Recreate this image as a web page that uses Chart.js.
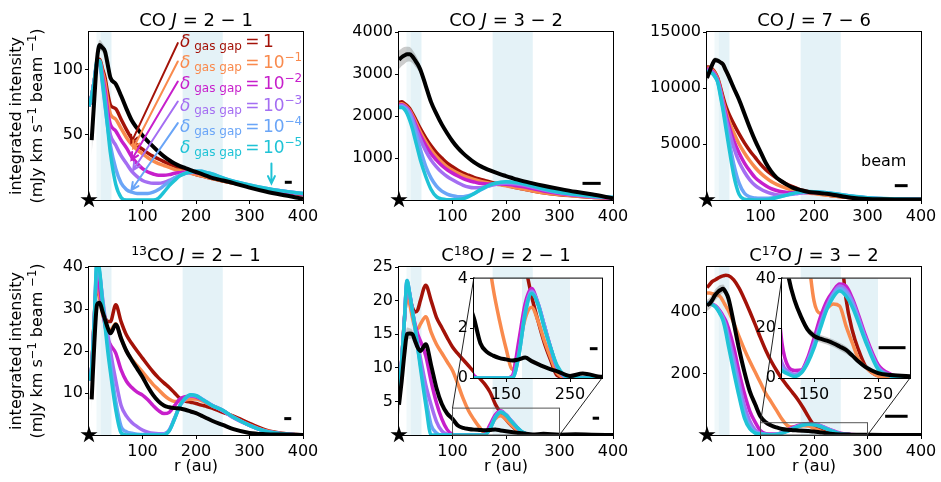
<!DOCTYPE html>
<html>
<head>
<meta charset="utf-8">
<title>CO isotopologue radial profiles</title>
<script src="https://cdn.jsdelivr.net/npm/chart.js@4.4.1/dist/chart.umd.min.js"></script>
<style>
  html, body { margin: 0; padding: 0; background: #fff; }
  #fig { position: relative; width: 941px; height: 482px; overflow: hidden;
         font-family: 'DejaVu Sans', sans-serif; color: #000; }
  #fig canvas { position: absolute; }
  .txt { position: absolute; white-space: nowrap; }
  .title { font-size: 18px; line-height: 22px; text-align: center; }
  .title sup { font-size: 12.5px; line-height: 0; vertical-align: 6px; }
  .axlab { font-size: 16px; line-height: 20px; text-align: center; }
  .ylab { font-size: 16px; line-height: 21px; text-align: center; width: 220px; height: 42px; transform: rotate(-90deg); }
  .ylab sup { font-size: 11.5px; line-height: 0; vertical-align: 6px; }
  .key { font-size: 17px; line-height: 20px; }
  .key .sub { font-size: 12px; vertical-align: -3px; }
  .key sup { font-size: 12px; line-height: 0; vertical-align: 7px; }
</style>
</head>
<body>
<div id="fig"></div>
<script>
// radial grid shared by every profile (au)
const radius = [0, 5, 10, 15, 20, 25, 30, 35, 40,
                50, 60, 70, 80, 90, 100,
                110, 120, 130, 140, 150, 160, 170, 180, 190, 200,
                210, 220, 230, 250, 270, 300, 330, 360, 400];

// gas depletion inside the gaps for the six models: 10^exp
const gapDepthExp = [0, -1, -2, -3, -4, -5];

// gap locations (au)
const innerEdge = [14, 22];
const gapBands = [[22, 42], [175, 250]];

const xTicks = [100, 200, 300, 400];
const insetXTicks = [150, 250];
const insetRange = [100, 300];

// beam FWHM for each line (au)
const beamSize = [13, 34, 24, 13, 12, 42];

// ---- CO J=2-1 (mJy km/s/beam) ----
const co21Ticks = [50, 100];
const co21Red     = [72, 80, 92, 105, 108, 101, 94, 82, 73,
                     70, 62, 54, 47, 42, 39,
                     36, 33.5, 31.5, 29.5, 27.5, 26, 24, 22.5, 21, 19.5,
                     18.5, 17.5, 16.5, 14.5, 13, 10.5, 8, 6.5, 4];
const co21Orange  = [72, 80, 92, 105, 107, 99, 90, 76, 66,
                     62, 55, 48, 42.5, 38.5, 35.5,
                     32.5, 30, 28, 26.5, 25, 23.5, 22.5, 21.5, 20.5, 19.5,
                     18.5, 17.5, 16.5, 14.5, 13, 10.5, 8, 6.5, 4.5];
const co21Magenta = [72, 80, 92, 105, 106, 96, 84, 68, 58,
                     53, 46, 40, 33, 28, 24,
                     21.5, 20, 19, 19, 19.5, 20.5, 21, 21.5, 21.5, 21,
                     20.5, 19.5, 18.5, 16, 14, 11, 8.5, 6.5, 4.5];
const co21Purple  = [72, 80, 92, 105, 105, 93, 80, 62, 50,
                     42, 34, 28, 22, 18, 15,
                     13.5, 12.8, 12.8, 13.5, 15, 17, 19, 20.5, 21, 21.5,
                     21.5, 20.5, 19.5, 16.5, 14, 11, 8.5, 7, 5];
const co21Blue    = [72, 80, 92, 105, 104, 89, 72, 56, 42,
                     24, 13, 8, 6, 5, 5,
                     5, 6, 8, 11, 14, 17, 19, 20.5, 21.5, 22,
                     22, 21, 20, 17, 14.5, 11.5, 9, 7, 5];
const co21Cyan    = [72, 80, 92, 107, 107, 92, 74, 55, 36,
                     12, 2, 0, 0, 0, 0,
                     0, 0, 1.5, 6, 11, 15, 18.5, 20.5, 21.5, 22,
                     22, 21, 20, 17, 14.5, 11.5, 9, 7, 5];
const co21Obs     = [null, 46, 78, 108, 119, 117, 114, 104, 94,
                     89, 80, 70, 61, 55, 49.5,
                     45, 41, 37, 33.5, 30.5, 28, 26, 24.5, 23, 21.5,
                     20, 18.5, 17, 15, 13, 9.5, 6.5, 4, 1];
const co21Err     = [null, 12, 8, 5, 4, 3.5, 3, 2.5, 2,
                     1.5, 1.2, 1, 1, 1, 1,
                     0.8, 0.8, 0.8, 0.7, 0.7, 0.6, 0.6, 0.6, 0.6, 0.5,
                     0.5, 0.5, 0.5, 0.5, 0.5, 0.5, 0.5, 0.5, 0.5];

// ---- CO J=3-2 ----
const co32Ticks = [1000, 2000, 3000, 4000];
const co32Red     = [2320, 2340, 2300, 2250, 2180, 2070, 1950, 1820, 1700,
                     1480, 1290, 1130, 1000, 880, 790,
                     710, 640, 590, 540, 500, 465, 430, 400, 375, 350,
                     320, 290, 265, 215, 170, 125, 95, 65, 40];
const co32Orange  = [2280, 2290, 2260, 2210, 2140, 2020, 1890, 1750, 1620,
                     1390, 1190, 1030, 900, 790, 710,
                     640, 580, 530, 490, 455, 425, 400, 380, 360, 340,
                     315, 290, 265, 215, 175, 130, 97, 67, 42];
const co32Magenta = [2260, 2270, 2240, 2190, 2110, 1980, 1830, 1680, 1540,
                     1300, 1100, 950, 820, 720, 640,
                     570, 510, 465, 430, 400, 385, 380, 380, 380, 375,
                     360, 340, 320, 270, 215, 155, 112, 77, 47];
const co32Purple  = [2240, 2250, 2220, 2170, 2080, 1940, 1770, 1600, 1440,
                     1170, 950, 790, 660, 560, 480,
                     410, 350, 310, 290, 290, 310, 340, 370, 390, 400,
                     395, 380, 360, 305, 245, 172, 122, 82, 52];
const co32Blue    = [2220, 2230, 2200, 2140, 2040, 1870, 1660, 1430, 1200,
                     800, 520, 330, 210, 140, 100,
                     80, 80, 100, 150, 220, 290, 350, 395, 420, 430,
                     425, 410, 390, 330, 262, 182, 132, 92, 60];
const co32Cyan    = [2200, 2200, 2160, 2060, 1900, 1700, 1450, 1200, 950,
                     560, 250, 80, 25, 8, 5,
                     10, 30, 80, 150, 230, 300, 360, 400, 425, 435,
                     430, 415, 395, 335, 265, 185, 135, 95, 65];
const co32Obs     = [3340, 3400, 3440, 3470, 3470, 3420, 3330, 3230, 3100,
                     2720, 2330, 2050, 1800, 1590, 1400,
                     1240, 1110, 1000, 900, 820, 760, 705, 655, 610, 570,
                     530, 490, 455, 395, 340, 265, 195, 135, 40];
const co32Err     = [220, 210, 200, 180, 170, 160, 150, 130, 110,
                     80, 60, 45, 35, 30, 25,
                     20, 20, 20, 20, 20, 20, 20, 20, 20, 20,
                     20, 20, 20, 20, 20, 20, 20, 20, 20];

// ---- CO J=7-6 ----
const co76Ticks = [5000, 10000, 15000];
const co76Red     = [11900, 11850, 11700, 11400, 10900, 10100, 9200, 8400, 7800,
                     6800, 5900, 5100, 4400, 3800, 3200,
                     2700, 2300, 1950, 1650, 1400, 1200, 1000, 850, 750, 650,
                     560, 480, 410, 300, 200, 120, 80, 60, 40];
const co76Orange  = [11800, 11750, 11600, 11300, 10800, 9900, 8900, 8000, 7200,
                     6000, 5000, 4200, 3500, 2900, 2400,
                     2000, 1650, 1400, 1200, 1030, 900, 790, 700, 630, 570,
                     510, 450, 400, 300, 210, 130, 85, 60, 40];
const co76Magenta = [11700, 11650, 11500, 11200, 10700, 9800, 8700, 7700, 6800,
                     5300, 4200, 3300, 2600, 2000, 1600,
                     1280, 1020, 850, 730, 670, 650, 650, 660, 670, 665,
                     640, 600, 550, 430, 310, 180, 110, 70, 50];
const co76Purple  = [11600, 11550, 11400, 11100, 10600, 9700, 8500, 7400, 6400,
                     4700, 3400, 2500, 1800, 1300, 980,
                     740, 580, 480, 450, 460, 510, 580, 640, 690, 700,
                     680, 640, 590, 460, 330, 190, 115, 75, 50];
const co76Blue    = [11500, 11450, 11300, 11000, 10550, 9500, 8200, 6900, 5600,
                     3200, 1500, 600, 280, 180, 150,
                     150, 180, 250, 350, 460, 560, 640, 700, 730, 730,
                     710, 670, 610, 480, 340, 200, 120, 80, 55];
const co76Cyan    = [11400, 11400, 11300, 11000, 10500, 9300, 8000, 6500, 5000,
                     2200, 500, 80, 20, 5, 5,
                     30, 100, 200, 330, 460, 580, 680, 730, 750, 740,
                     720, 680, 620, 490, 350, 210, 125, 85, 60];
const co76Obs     = [10900, 11500, 12100, 12500, 12450, 12300, 12100, 11600, 11100,
                     10000, 8950, 7700, 6450, 5300, 4300,
                     3300, 2550, 2000, 1650, 1350, 1100, 950, 820, 720, 660,
                     620, 570, 520, 350, 200, 90, 60, 50, 40];
const co76Err     = [300, 300, 300, 250, 200, 150, 120, 100, 80,
                     60, 50, 40, 40, 40, 40,
                     30, 30, 30, 30, 30, 30, 30, 30, 30, 30,
                     30, 30, 30, 30, 30, 30, 30, 30, 30];

// ---- 13CO J=2-1 ----
const c13Ticks = [10, 20, 30, 40];
const c13Red     = [13, 16, 28, 36, 33, 30, 28, 27, 27,
                    31, 27, 23.8, 21.8, 20, 18.3,
                    16.6, 15, 13.6, 12.4, 11.3, 10, 8.7, 8.1, 7.8, 7.5,
                    7.1, 6.8, 6.4, 5.4, 4.5, 2.8, 1.2, 0.4, 0];
const c13Orange  = [13, 16, 28, 37, 33, 29, 27, 25.5, 25,
                    26.5, 23, 20, 18, 16.5, 15,
                    13.5, 12, 10.8, 9.5, 8.5, 8, 8, 8.3, 8.6, 8.6,
                    8.2, 7.6, 7, 5.8, 4.3, 2.4, 1, 0.3, 0];
const c13Magenta = [13, 16, 28, 38, 35, 30, 26, 23, 21.5,
                    19.5, 15.5, 12.8, 11.3, 10.2, 9.5,
                    8.4, 7, 5.8, 5.1, 5.4, 7, 8.6, 9.1, 9.3, 9.1,
                    8.5, 7.8, 7.1, 5.8, 4.2, 2.3, 0.9, 0.3, 0];
const c13Purple  = [13, 16, 28, 40, 38, 33, 28, 24, 20,
                    13, 7, 4.5, 3, 2, 1.2,
                    0.7, 0.4, 0.3, 0.3, 1.2, 4, 7, 8.6, 9.4, 9.3,
                    8.6, 7.8, 7, 5.8, 4.1, 2.3, 0.9, 0.3, 0];
const c13Blue    = [13, 16, 28, 41, 38.5, 32.5, 27, 21.5, 17,
                    8, 2, 0.8, 0.4, 0.2, 0.1,
                    0.1, 0.1, 0.1, 0.2, 1, 4, 7, 8.7, 9.5, 9.4,
                    8.7, 7.9, 7.1, 5.9, 4.2, 2.3, 0.9, 0.3, 0];
const c13Cyan    = [13, 16, 28, 42, 39, 32, 26, 20, 15,
                    6, 0.5, 0, 0, 0, 0,
                    0, 0, 0, 0, 1, 3.8, 7, 8.8, 9.6, 9.4,
                    8.6, 7.8, 7, 5.9, 4.2, 2.3, 0.9, 0.3, 0];
const c13Obs     = [null, 8.5, 22, 31, 31.5, 29.5, 27.5, 25.5, 24.2,
                    26.3, 23, 20, 17.8, 15.8, 13.8,
                    11.5, 9.5, 8, 7, 6.6, 6.4, 6.3, 6, 5.6, 5.2,
                    4.6, 4, 3.4, 2.4, 1.4, 0.5, 0.2, 0.1, 0];
const c13Err     = [null, 3, 1.5, 1, 0.8, 0.6, 0.5, 0.4, 0.4,
                    0.3, 0.3, 0.2, 0.2, 0.2, 0.2,
                    0.2, 0.2, 0.2, 0.2, 0.2, 0.2, 0.2, 0.2, 0.2, 0.2,
                    0.2, 0.2, 0.2, 0.2, 0.2, 0.2, 0.2, 0.2, 0.2];

// ---- C18O J=2-1 ----
const c18Ticks = [5, 10, 15, 20, 25];
const c18InsetTicks = [0, 2, 4];
const c18Red     = [6, 11, 17, 21, 20.5, 19, 18.3, 18.6, 20,
                    22.3, 20, 17.5, 16, 14.5, 13.1,
                    12.1, 11.2, 10.3, 9.4, 8.5, 7.6, 6.4, 4.6, 3.3, 2.3,
                    1.4, 0.7, 0.1, 0, 0, 0, 0, 0, 0];
const c18Orange  = [6, 11, 17, 21, 19.5, 17.5, 16, 15.8, 16.5,
                    17.6, 15.3, 13.5, 12.2, 10.9, 9.6,
                    7.6, 5.4, 3.6, 2.3, 1.2, 0.35, 1.2, 2.4, 2.85, 2.3,
                    1.5, 0.8, 0.2, 0, 0, 0, 0, 0, 0];
const c18Magenta = [6, 11, 17, 22.5, 21, 18.5, 16.5, 15, 14,
                    11.8, 8, 4.8, 2.4, 0.8, 0.1,
                    0, 0, 0, 0, 0, 0.1, 1.5, 3, 3.6, 3,
                    2.1, 1.2, 0.4, 0, 0, 0, 0, 0, 0];
const c18Purple  = [6, 11, 17, 22.8, 21, 18.5, 16, 13.5, 11.5,
                    7.5, 4.5, 2, 0.6, 0.1, 0,
                    0, 0, 0, 0, 0, 0.05, 1, 2.7, 3.5, 3,
                    2.1, 1.2, 0.4, 0, 0, 0, 0, 0, 0];
const c18Blue    = [6, 11, 17, 23, 21, 18.5, 16, 13, 10.5,
                    5.5, 1.5, 0.3, 0, 0, 0,
                    0, 0, 0, 0, 0, 0, 0.9, 2.6, 3.45, 3,
                    2.1, 1.2, 0.45, 0, 0, 0, 0, 0, 0];
const c18Cyan    = [6, 11, 17, 23, 21, 18.5, 16, 13, 10,
                    4.5, 0, 0, 0, 0, 0,
                    0, 0, 0, 0, 0, 0, 0.9, 2.6, 3.4, 2.95,
                    2, 1.2, 0.5, 0, 0, 0, 0, 0, 0];
const c18Obs     = [4.5, 8, 12, 15, 15.1, 15, 14, 13, 12.5,
                    13.5, 10.4, 7, 4.6, 3.2, 2.4,
                    1.4, 1.05, 0.9, 0.8, 0.75, 0.7, 0.75, 0.82, 0.68, 0.56,
                    0.45, 0.35, 0.27, 0.08, 0.18, 0.05, 0.1, 0.05, 0];
const c18Err     = [1.5, 1.5, 1.3, 1, 0.8, 0.6, 0.5, 0.4, 0.3,
                    0.2, 0.2, 0.15, 0.1, 0.1, 0.1,
                    0.05, 0.05, 0.05, 0.05, 0.05, 0.05, 0.05, 0.05, 0.05, 0.05,
                    0.05, 0.05, 0.05, 0.05, 0.05, 0.05, 0.05, 0.05, 0.05];

// ---- C17O J=3-2 ----
const c17Ticks = [200, 400];
const c17InsetTicks = [0, 20, 40];
const c17Red     = [480, 490, 500, 505, 510, 515, 518, 520, 519,
                    505, 478, 442, 402, 360, 316,
                    275, 240, 210, 183, 160, 138, 115, 88, 58, 32,
                    19, 11, 5, 1, 0.5, 0.2, 0, 0, 0];
const c17Orange  = [462, 462, 460, 458, 456, 450, 436, 420, 405,
                    365, 320, 278, 240, 205, 170,
                    135, 108, 80, 52, 31, 26, 28, 29.8, 29, 21,
                    14, 7.4, 4.5, 0.8, 0.3, 0, 0, 0, 0];
const c17Magenta = [428, 428, 426, 422, 414, 402, 388, 372, 348,
                    286, 205, 135, 78, 42, 14,
                    4.5, 3, 3.2, 8, 16, 24.5, 31, 35, 37.8, 37,
                    32, 25, 17.5, 5.5, 1.5, 0.3, 0, 0, 0];
const c17Purple  = [428, 428, 425, 420, 411, 398, 382, 358, 322,
                    250, 170, 95, 46, 17, 6,
                    2.5, 1.5, 2.5, 7, 14, 22, 29, 34, 37, 35.5,
                    31, 24, 16.5, 4.5, 1.2, 0.2, 0, 0, 0];
const c17Blue    = [428, 428, 425, 419, 409, 395, 377, 348, 305,
                    228, 148, 72, 30, 10, 4,
                    2, 1, 2.2, 6.5, 13, 21, 28, 33.5, 36, 34.5,
                    30, 23, 16, 4, 1, 0, 0, 0, 0];
const c17Cyan    = [428, 428, 424, 418, 407, 392, 372, 336, 290,
                    205, 125, 55, 20, 6, 3,
                    1.5, 0.6, 2, 6, 12, 20, 27.5, 32.5, 35, 33,
                    28.5, 22, 15, 3.5, 0.8, 0, 0, 0, 0];
const c17Obs     = [422, 428, 440, 455, 465, 472, 476, 465, 445,
                    365, 280, 205, 142, 100, 60,
                    41, 31, 24.5, 19.5, 17, 15.8, 15, 14, 12.7, 11.3,
                    9, 6.5, 4.5, 2, 1.2, 0.7, 0.4, 0.2, 0];
const c17Err     = [18, 18, 18, 18, 18, 16, 14, 12, 10,
                    8, 6, 5, 4, 3, 2.5,
                    2, 1.5, 1.5, 1.5, 1.5, 1.5, 1.5, 1.5, 1.5, 1.5,
                    1.2, 1, 1, 0.8, 0.6, 0.5, 0.3, 0.2, 0.1];

// ---------------------------------------------------------------------------

const modelColors = ['#a31208', '#f98a4d', '#c71fcb', '#a46ef2', '#6aa5f7', '#1fc3d6'];

// key arrows in the CO 2-1 panel: [r tail, I tail, r tip, I tip]
const keyArrows = [[166, 120.5, 79, 44], [166, 106.4, 82.5, 39.7], [166, 91, 79.4, 30.8],
                   [166, 75.6, 82.5, 23], [166, 59, 79.4, 7.7], [341, 28, 341, 12.8]];

const panels = [
  { title: 'CO <i>J</i> = 2 − 1', col: 0, row: 0, yMax: 129, yTicks: co21Ticks,
    models: [co21Red, co21Orange, co21Magenta, co21Purple, co21Blue, co21Cyan],
    obs: co21Obs, err: co21Err, beamAt: [379, 13.6], arrows: keyArrows },
  { title: 'CO <i>J</i> = 3 − 2', col: 1, row: 0, yMax: 4000, yTicks: co32Ticks,
    models: [co32Red, co32Orange, co32Magenta, co32Purple, co32Blue, co32Cyan],
    obs: co32Obs, err: co32Err, beamAt: [377, 396] },
  { title: 'CO <i>J</i> = 7 − 6', col: 2, row: 0, yMax: 15000, yTicks: co76Ticks,
    models: [co76Red, co76Orange, co76Magenta, co76Purple, co76Blue, co76Cyan],
    obs: co76Obs, err: co76Err, beamAt: [375, 1280] },
  { title: '<sup>13</sup>CO <i>J</i> = 2 − 1', col: 0, row: 1, yMax: 40, yTicks: c13Ticks,
    models: [c13Red, c13Orange, c13Magenta, c13Purple, c13Blue, c13Cyan],
    obs: c13Obs, err: c13Err, beamAt: [378, 3.9] },
  { title: 'C<sup>18</sup>O <i>J</i> = 2 − 1', col: 1, row: 1, yMax: 25, yTicks: c18Ticks,
    models: [c18Red, c18Orange, c18Magenta, c18Purple, c18Blue, c18Cyan],
    obs: c18Obs, err: c18Err, beamAt: [374, 2.5],
    inset: { yMax: 4, yTicks: c18InsetTicks, beamAt: [293, 1.18] } },
  { title: 'C<sup>17</sup>O <i>J</i> = 3 − 2', col: 2, row: 1, yMax: 547, yTicks: c17Ticks,
    models: [c17Red, c17Orange, c17Magenta, c17Purple, c17Blue, c17Cyan],
    obs: c17Obs, err: c17Err, beamAt: [375, 61],
    inset: { yMax: 40, yTicks: c17InsetTicks, beamAt: [293, 12.2] } },
];

// page layout (px)
const AXIS_W = 62, AXIS_H = 30, PAD_TOP = 12, PAD_RIGHT = 22;
const PLOT_W = 214, PLOT_H = 168;
const colLeft = [89, 399, 707], rowTop = [32, 267];
const insetFrac = { x0: 0.35, x1: 0.95, y0: 0.06, y1: 0.66 };
const IN_AXIS_W = 30, IN_AXIS_H = 26, IN_PAD_TOP = 10, IN_PAD_RIGHT = 22;

Chart.defaults.font.family = "'DejaVu Sans', sans-serif";
Chart.defaults.color = '#000';

const fig = document.getElementById('fig');

function makeStar(r) {
  const size = Math.ceil(2 * r) + 2;
  const c = document.createElement('canvas');
  c.width = size; c.height = size;
  const g = c.getContext('2d');
  g.fillStyle = '#000';
  g.beginPath();
  for (let k = 0; k < 10; k++) {
    const rr = k % 2 ? r * 0.382 : r;
    const ang = -Math.PI / 2 + k * Math.PI / 5;
    g.lineTo(size / 2 + rr * Math.cos(ang), size / 2 + rr * Math.sin(ang));
  }
  g.closePath();
  g.fill();
  return c;
}
const starImg = makeStar(9);

function makeCanvas(left, top, w, h) {
  const c = document.createElement('canvas');
  c.width = w; c.height = h;
  c.style.left = left + 'px'; c.style.top = top + 'px';
  c.style.width = w + 'px'; c.style.height = h + 'px';
  fig.appendChild(c);
  return c;
}

function addText(html, left, top, cls, style) {
  const d = document.createElement('div');
  d.className = 'txt ' + cls;
  d.innerHTML = html;
  d.style.left = left + 'px';
  d.style.top = top + 'px';
  if (style) d.style.cssText += style;
  fig.appendChild(d);
  return d;
}

function points(values) {
  return radius.map((r, i) => ({ x: r, y: values[i] }));
}

function profileSets(p, beam, beamAt, withStar) {
  const upper = p.obs.map((v, i) => v === null ? null : v + p.err[i]);
  const lower = p.obs.map((v, i) => v === null ? null : v - p.err[i]);
  const sets = [];
  // drawn last-to-first: models at the back, observation and star on top
  if (withStar) {
    sets.push({ data: [{ x: 0, y: 0 }], showLine: false, pointStyle: starImg,
                pointRadius: 9, clip: false });
  }
  sets.push({ data: [{ x: beamAt[0] - beam, y: beamAt[1] }, { x: beamAt[0], y: beamAt[1] }],
              borderColor: '#000', borderWidth: 3, borderCapStyle: 'butt', clip: false });
  sets.push({ data: points(p.obs), borderColor: '#000', borderWidth: 4, clip: 0 });
  sets.push({ data: points(upper), borderWidth: 0, borderColor: 'rgba(0,0,0,0)',
              backgroundColor: 'rgba(110,110,110,0.35)', fill: '+1', clip: 0 });
  sets.push({ data: points(lower), borderWidth: 0, borderColor: 'rgba(0,0,0,0)', clip: 0 });
  for (let k = p.models.length - 1; k >= 0; k--) {
    sets.push({ data: points(p.models[k]), borderColor: modelColors[k], borderWidth: 3.5, clip: 0 });
  }
  return sets;
}

function axisOptions(xMin, xMax, xt, yMax, yt, yW, xH) {
  const grid = () => ({ drawOnChartArea: false, drawTicks: true, tickLength: 4, color: '#000', lineWidth: 1 });
  const ticks = pad => ({ font: { size: 16 }, color: '#000', padding: pad, maxRotation: 0,
                          autoSkip: false, callback: v => String(v) });
  return {
    x: { type: 'linear', min: xMin, max: xMax, grid: grid(), border: { display: false }, ticks: ticks(3),
         afterBuildTicks: s => { s.ticks = xt.map(value => ({ value })); },
         afterFit: s => { s.height = xH; } },
    y: { type: 'linear', min: 0, max: yMax, grid: grid(), border: { display: false }, ticks: ticks(2),
         afterBuildTicks: s => { s.ticks = yt.map(value => ({ value })); },
         afterFit: s => { s.width = yW; } }
  };
}

function baseOptions(scales, padding) {
  return {
    responsive: false, animation: false, devicePixelRatio: 1, events: [],
    layout: { padding },
    elements: { point: { radius: 0 },
                line: { cubicInterpolationMode: 'monotone', borderJoinStyle: 'round', fill: false } },
    plugins: { legend: { display: false }, tooltip: { enabled: false } },
    scales
  };
}

function shadeBands(chart) {
  const { ctx, chartArea: a, scales: { x } } = chart;
  const span = (r0, r1) => {
    const p0 = x.getPixelForValue(r0), p1 = x.getPixelForValue(r1);
    ctx.fillRect(p0, a.top, p1 - p0, a.bottom - a.top);
  };
  ctx.save();
  ctx.beginPath();
  ctx.rect(a.left, a.top, a.right - a.left, a.bottom - a.top);
  ctx.clip();
  ctx.fillStyle = 'rgba(173,216,230,0.18)';
  span(innerEdge[0], innerEdge[1]);
  ctx.fillStyle = 'rgba(173,216,230,0.33)';
  gapBands.forEach(b => span(b[0], b[1]));
  ctx.restore();
}

function drawFrame(chart) {
  const { ctx, chartArea: a } = chart;
  ctx.save();
  ctx.strokeStyle = '#000';
  ctx.lineWidth = 1;
  ctx.strokeRect(a.left - 0.5, a.top - 0.5, a.right - a.left + 1, a.bottom - a.top + 1);
  ctx.restore();
}

function drawArrow(ctx, x0, y0, x1, y1, color) {
  const ang = Math.atan2(y1 - y0, x1 - x0), len = 8, spread = 0.45;
  ctx.strokeStyle = color;
  ctx.lineWidth = 2;
  ctx.lineCap = 'round';
  ctx.beginPath();
  ctx.moveTo(x0, y0);
  ctx.lineTo(x1, y1);
  ctx.moveTo(x1 - len * Math.cos(ang - spread), y1 - len * Math.sin(ang - spread));
  ctx.lineTo(x1, y1);
  ctx.lineTo(x1 - len * Math.cos(ang + spread), y1 - len * Math.sin(ang + spread));
  ctx.stroke();
}

function insetBox(p) {
  const L = colLeft[p.col], T = rowTop[p.row];
  return { x0: Math.round(L + insetFrac.x0 * PLOT_W), x1: Math.round(L + insetFrac.x1 * PLOT_W),
           y0: Math.round(T + insetFrac.y0 * PLOT_H), y1: Math.round(T + insetFrac.y1 * PLOT_H) };
}

panels.forEach((p, i) => {
  const left = colLeft[p.col] - AXIS_W, top = rowTop[p.row] - PAD_TOP;
  const box = p.inset ? insetBox(p) : null;

  const decorations = {
    id: 'decorations',
    beforeDatasetsDraw: chart => shadeBands(chart),
    afterDatasetsDraw: chart => {
      const { ctx, scales: { x, y } } = chart;
      drawFrame(chart);
      if (box) {
        // zoom window and its connectors to the inset
        const rx0 = x.getPixelForValue(insetRange[0]), rx1 = x.getPixelForValue(insetRange[1]);
        const ry0 = y.getPixelForValue(0), ry1 = y.getPixelForValue(p.inset.yMax);
        ctx.save();
        ctx.strokeStyle = '#555';
        ctx.lineWidth = 1;
        ctx.strokeRect(rx0, ry1, rx1 - rx0, ry0 - ry1);
        ctx.strokeStyle = '#222';
        ctx.beginPath();
        ctx.moveTo(rx0, ry1); ctx.lineTo(box.x0 - left, box.y0 - top);
        ctx.moveTo(rx1, ry0); ctx.lineTo(box.x1 - left, box.y1 - top);
        ctx.stroke();
        ctx.restore();
      }
      if (p.arrows) {
        ctx.save();
        p.arrows.forEach((a, k) => drawArrow(ctx, x.getPixelForValue(a[0]), y.getPixelForValue(a[1]),
                                             x.getPixelForValue(a[2]), y.getPixelForValue(a[3]), modelColors[k]));
        ctx.restore();
      }
    }
  };

  const canvas = makeCanvas(left, top, AXIS_W + PLOT_W + PAD_RIGHT, PAD_TOP + PLOT_H + AXIS_H);
  new Chart(canvas, {
    type: 'line',
    data: { datasets: profileSets(p, beamSize[i], p.beamAt, true) },
    options: baseOptions(axisOptions(0, 400, xTicks, p.yMax, p.yTicks, AXIS_W, AXIS_H),
                         { left: 0, top: PAD_TOP, right: PAD_RIGHT, bottom: 0 }),
    plugins: [decorations]
  });

  if (box) {
    const il = box.x0 - IN_AXIS_W, it = box.y0 - IN_PAD_TOP;
    const insetCanvas = makeCanvas(il, it, IN_AXIS_W + (box.x1 - box.x0) + IN_PAD_RIGHT,
                                   IN_PAD_TOP + (box.y1 - box.y0) + IN_AXIS_H);
    insetCanvas.style.zIndex = 2;
    new Chart(insetCanvas, {
      type: 'line',
      data: { datasets: profileSets(p, beamSize[i], p.inset.beamAt, false) },
      options: baseOptions(axisOptions(insetRange[0], insetRange[1], insetXTicks, p.inset.yMax,
                                       p.inset.yTicks, IN_AXIS_W, IN_AXIS_H),
                           { left: 0, top: IN_PAD_TOP, right: IN_PAD_RIGHT, bottom: 0 }),
      plugins: [{
        id: 'insetDecor',
        beforeDatasetsDraw: chart => {
          const { ctx, chartArea: a } = chart;
          ctx.save();
          ctx.fillStyle = '#fff';
          ctx.fillRect(a.left, a.top, a.right - a.left, a.bottom - a.top);
          ctx.restore();
          shadeBands(chart);
        },
        afterDatasetsDraw: chart => drawFrame(chart)
      }]
    });
  }

  // panel title
  addText(p.title, colLeft[p.col], rowTop[p.row] - 23.5, 'title', 'width:' + PLOT_W + 'px');
  // axis labels on the outer edges
  if (p.row === 1) {
    addText('r (au)', colLeft[p.col], rowTop[p.row] + PLOT_H + 20.5, 'axlab', 'width:' + PLOT_W + 'px');
  }
  if (p.col === 0) {
    const cy = rowTop[p.row] + PLOT_H / 2;
    addText('integrated intensity<br>(mJy km s<sup>−1</sup> beam <sup>−1</sup>)', 25.5 - 110, cy - 21, 'ylab');
  }
});

addText('beam', 861, 151, 'axlab');

// model key in the CO 2-1 panel
gapDepthExp.forEach((e, k) => {
  const value = e === 0 ? '1' : '10<sup>−' + (-e) + '</sup>';
  addText('<i>δ</i><span class="sub"> gas gap</span>&thinsp;=&thinsp;' + value,
          180, 30.8 + 21.3 * k, 'key', 'color:' + modelColors[k]);
});
</script>
</body>
</html>
